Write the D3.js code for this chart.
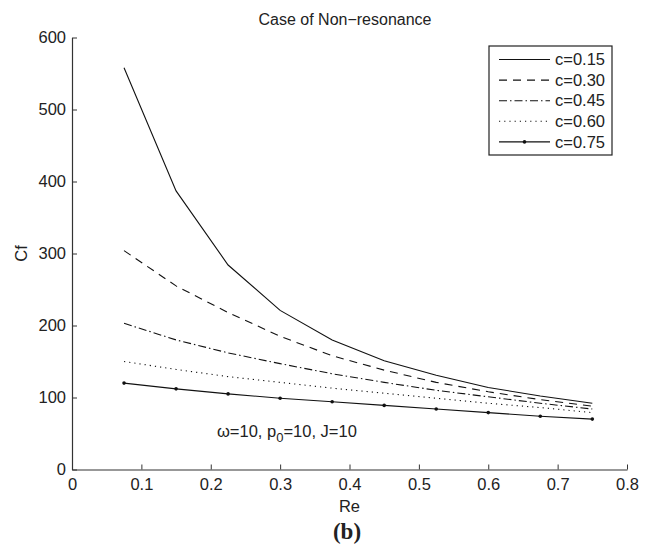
<!DOCTYPE html>
<html>
<head>
<meta charset="utf-8">
<script src="https://cdn.jsdelivr.net/npm/d3@7"></script>
<style>
  body { margin: 0; background: #fff; }
  svg text { font-family: "Liberation Sans", Arial, sans-serif; fill: #222; }
</style>
</head>
<body>
<svg class="plot" width="646" height="547"></svg>
<script>
// data
var re = [0.075, 0.15, 0.225, 0.3, 0.375, 0.45, 0.525, 0.6, 0.675, 0.75];
var c015 = [558, 387, 284, 221, 180, 151, 131, 114, 102, 92];
var c030 = [304, 255, 218, 185, 158, 138, 121, 108, 97, 88];
var c045 = [203, 180, 162, 147, 133, 121, 110, 101, 92, 84];
var c060 = [150, 139, 129, 121, 113, 106, 99, 92, 86, 79];
var c075 = [120, 112, 105, 99, 94, 89, 84, 79, 74, 70];
var seriesNames = ["c=0.15", "c=0.30", "c=0.45", "c=0.60", "c=0.75"];
var xTicks = [0, 0.1, 0.2, 0.3, 0.4, 0.5, 0.6, 0.7, 0.8];
var yTicks = [0, 100, 200, 300, 400, 500, 600];

var series = [
  {name: seriesNames[0], values: c015, dash: null, marker: false},
  {name: seriesNames[1], values: c030, dash: "8,6", marker: false},
  {name: seriesNames[2], values: c045, dash: "8,3,1.5,3", marker: false},
  {name: seriesNames[3], values: c060, dash: "1.2,4", marker: false},
  {name: seriesNames[4], values: c075, dash: null, marker: true}
];

var svg = d3.select(".plot"),
    margin = {top: 37.5, right: 19, bottom: 77.5, left: 72},
    width = +svg.attr("width") - margin.left - margin.right,
    height = +svg.attr("height") - margin.top - margin.bottom;

var x = d3.scaleLinear().domain([0, 0.8]).range([0, width]),
    y = d3.scaleLinear().domain([0, 600]).range([height, 0]);

var g = svg.append("g")
    .attr("transform", "translate(" + margin.left + "," + margin.top + ")");

//axes, ticks pointing inward
var xAxis = g.append("g")
    .attr("transform", "translate(0," + height + ")")
    .call(d3.axisBottom(x).tickValues(xTicks).tickSizeInner(-5).tickSizeOuter(0)
      .tickPadding(9).tickFormat(function(d) { return d === 0 ? "0" : d3.format(".1f")(d); }));

var yAxis = g.append("g")
    .call(d3.axisLeft(y).tickValues(yTicks).tickSizeInner(-5).tickSizeOuter(0)
      .tickPadding(6).tickFormat(d3.format("d")));

[xAxis, yAxis].forEach(function(a) {
  a.select(".domain").attr("stroke", "#333").attr("stroke-width", 1.2);
  a.selectAll(".tick line").attr("stroke", "#333");
  a.selectAll(".tick text").style("font-size", "16.5px").attr("fill", "#222");
});

//titles
g.append("text")
    .attr("x", 345 - margin.left)
    .attr("y", 25 - margin.top)
    .style("font-size", "16px")
    .style("text-anchor", "middle")
    .text("Case of Non\u2212resonance");

g.append("text")
    .attr("x", width / 2)
    .attr("y", 512 - margin.top)
    .style("font-size", "16.5px")
    .style("text-anchor", "middle")
    .text("Re");

g.append("text")
    .attr("transform", "translate(-45," + y(300) + ") rotate(-90)")
    .style("font-size", "16.5px")
    .style("text-anchor", "middle")
    .text("Cf");

svg.append("text")
    .attr("x", 347)
    .attr("y", 539)
    .style("font-family", "'Liberation Serif', 'Times New Roman', serif")
    .style("font-weight", "bold")
    .style("font-size", "23px")
    .style("text-anchor", "middle")
    .text("(b)");

//annotation
var note = g.append("text")
    .attr("x", x(0.209))
    .attr("y", y(45))
    .style("font-size", "16.5px");
note.append("tspan").text("\u03c9=10, p");
note.append("tspan").attr("dy", 5).style("font-size", "13px").text("0");
note.append("tspan").attr("dy", -5).text("=10, J=10");

//lines
var line = d3.line()
    .x(function(d, i) { return x(re[i]); })
    .y(function(d) { return y(d); });

series.forEach(function(s) {
  g.append("path")
      .datum(s.values)
      .attr("fill", "none")
      .attr("stroke", "#111")
      .attr("stroke-width", 1.1)
      .attr("stroke-dasharray", s.dash)
      .attr("d", line);
  if (s.marker) {
    g.selectAll(".marker")
        .data(s.values)
        .enter().append("circle")
        .attr("class", "marker")
        .attr("cx", function(d, i) { return x(re[i]); })
        .attr("cy", function(d) { return y(d); })
        .attr("r", 1.8)
        .attr("fill", "#111");
  }
});

//legend
var legend = svg.append("g").attr("transform", "translate(489,46)");
legend.append("rect")
    .attr("width", 123)
    .attr("height", 109)
    .attr("fill", "#fff")
    .attr("stroke", "#222")
    .attr("stroke-width", 1.2);

var items = legend.selectAll(".item")
    .data(series)
    .enter().append("g")
    .attr("class", "item")
    .attr("transform", function(d, i) { return "translate(0," + (13.5 + i * 20.6) + ")"; });

items.append("line")
    .attr("x1", 10).attr("x2", 61)
    .attr("stroke", "#111")
    .attr("stroke-width", 1.1)
    .attr("stroke-dasharray", function(d) { return d.dash; });

items.filter(function(d) { return d.marker; })
    .append("circle")
    .attr("cx", 35.5).attr("r", 1.8).attr("fill", "#111");

items.append("text")
    .attr("x", 66)
    .attr("dy", "0.35em")
    .style("font-size", "16.5px")
    .text(function(d) { return d.name; });
</script>
</body>
</html>
